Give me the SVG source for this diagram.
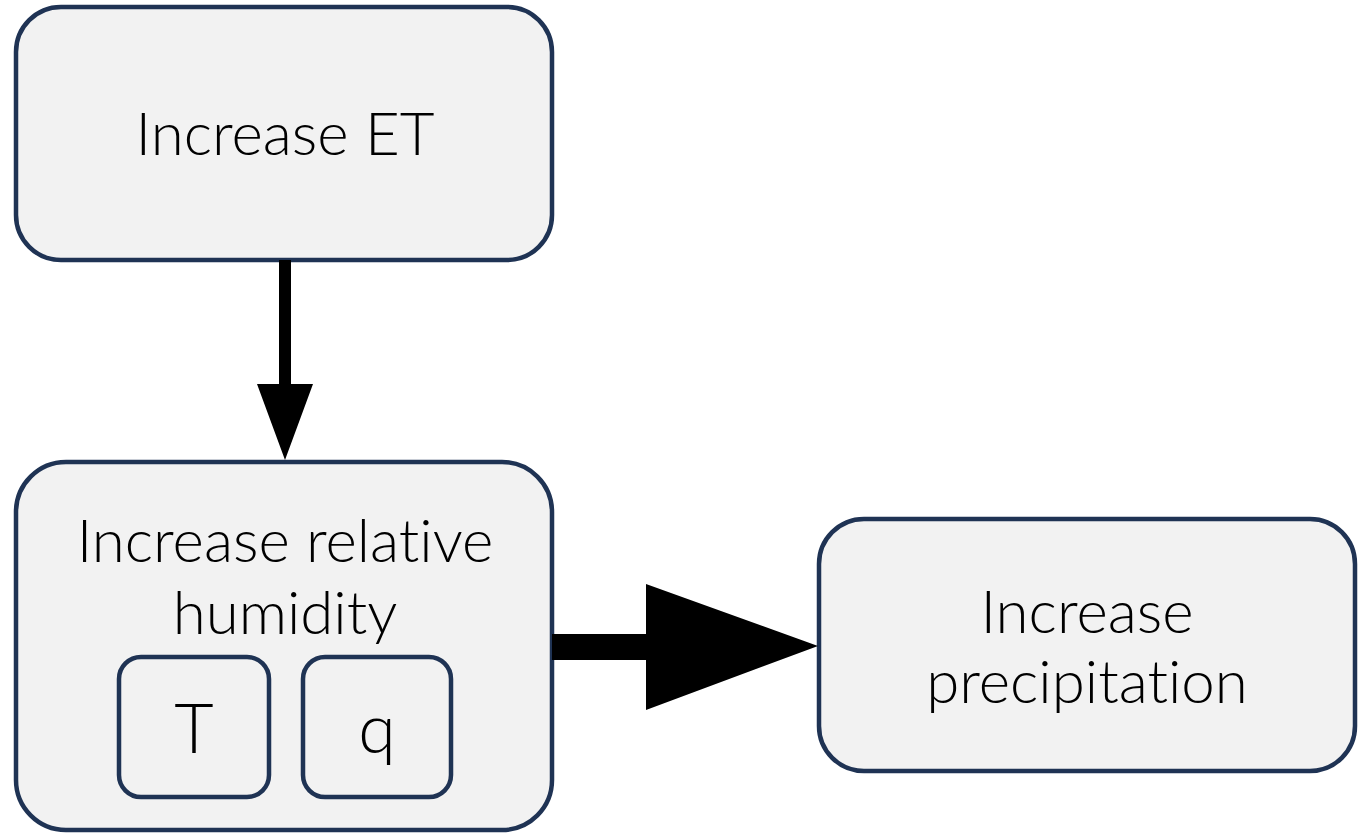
<svg xmlns="http://www.w3.org/2000/svg" width="1361" height="834" viewBox="0 0 1361 834">
  <style>
    .box { fill: #f2f2f2; stroke: #1f3354; stroke-width: 4.5; }
    .lbl { font-family: "Lato", "Liberation Sans", sans-serif; font-weight: 300; font-size: 60px; fill: #000; text-anchor: middle; font-variant-ligatures: none; }
    .var { font-size: 68px; }
    .arrow { fill: #000; stroke: none; }
  </style>
  <rect width="1361" height="834" fill="#ffffff"/>

  <g id="node-et">
    <rect class="box" x="16" y="7" width="536" height="253" rx="45" ry="45"/>
    <text class="lbl" x="285" y="155">Increase ET</text>
  </g>

  <g id="node-rh">
    <rect class="box" x="16" y="462" width="536" height="368" rx="50" ry="50"/>
    <text class="lbl" x="285" y="562">Increase relative</text>
    <text class="lbl" x="285" y="634">humidity</text>
  </g>

  <g id="node-t">
    <rect class="box" x="119" y="657" width="150" height="140" rx="22" ry="22"/>
    <text class="lbl var" x="194" y="753">T</text>
  </g>

  <g id="node-q">
    <rect class="box" x="303" y="657" width="148" height="140" rx="22" ry="22"/>
    <text class="lbl var" x="377" y="753">q</text>
  </g>

  <g id="node-precip">
    <rect class="box" x="819" y="519" width="536" height="252" rx="45" ry="45"/>
    <text class="lbl" x="1087" y="633">Increase</text>
    <text class="lbl" x="1087" y="703">precipitation</text>
  </g>

  <g id="connectors">
    <!-- ET to relative humidity -->
    <path class="arrow" d="M279,260 L291,260 L291,384 L313,384 L285,460 L257,384 L279,384 Z"/>
    <!-- relative humidity to precipitation -->
    <path class="arrow" d="M552,634 L646,634 L646,584 L818,646 L646,710 L646,660 L552,660 Z"/>
  </g>
</svg>
